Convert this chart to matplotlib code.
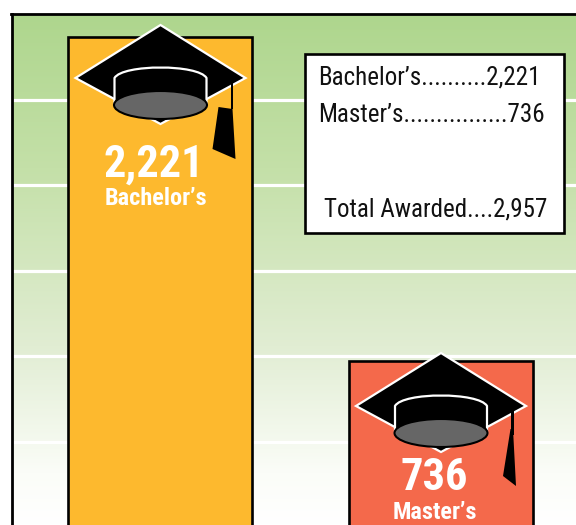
import numpy as np
import matplotlib
matplotlib.use("Agg")
import matplotlib.pyplot as plt
from matplotlib.colors import LinearSegmentedColormap
from matplotlib.patches import Polygon, Ellipse, PathPatch, Rectangle
from matplotlib.path import Path
from matplotlib.transforms import Affine2D

categories = ["Bachelor\u2019s", "Master\u2019s"]
values = [2221, 736]
value_labels = ["2,221", "736"]
bar_colors = ["#FDB92E", "#F4694B"]
grid_values = [365, 757, 1149, 1541, 1933]
legend_lines = ["Bachelor\u2019s..........2,221", "Master\u2019s................736", "Total Awarded....2,957"]

W, H = 576, 525
plt.rcParams["font.family"] = ["Roboto Condensed", "Liberation Sans", "DejaVu Sans"]

fig = plt.figure(figsize=(W / 100, H / 100), dpi=100, facecolor="white")
ax = fig.add_axes([11.5 / W, 0, 1 - 11.5 / W, 1 - 14 / H])
PX_PER_UNIT = 0.2182
ymin = (521.6 - 525) / PX_PER_UNIT
ymax = (521.6 - 14) / PX_PER_UNIT

cmap = LinearSegmentedColormap.from_list(
    "bg", [(0, "#AED68D"), (0.3, "#C4E0A8"), (0.65, "#E1EDD3"), (0.9, "#FBFDF8"), (1, "#FFFFFF")])
ax.imshow(np.linspace(0, 1, 256)[:, None], cmap=cmap, aspect="auto", extent=[0, 1, 0, 1],
          transform=ax.transAxes, zorder=0)

x = np.arange(len(values))
bar_floor = ymin - 60  # the picture crops the bars: their lower edge lies below the frame
ax.bar(x, [v - bar_floor for v in values], bottom=bar_floor, width=184 / 281, color=bar_colors,
       edgecolor="black", linewidth=1.9, zorder=2)

ax.set_xlim((11.5 - 160.5) / 281, (576 - 160.5) / 281)
ax.set_ylim(ymin, ymax)
ax.set_yticks(grid_values)
ax.set_xticks([])
ax.tick_params(length=0, labelleft=False)
ax.grid(axis="y", color="white", lw=2.3, zorder=1)
ax.set_axisbelow(True)
for s in ("right", "bottom"):
    ax.spines[s].set_visible(False)
for s in ("left", "top"):
    ax.spines[s].set_linewidth(2.0)
    ax.spines[s].set_color("black")

px = Affine2D().scale(1, -1).translate(0, H)
tassels = [
    [(58, 82), (72, 84), (75, 134), (52, 124)],
    [(69.5, 76), (72, 76), (75, 133), (62, 123)],
]
cord_ends = [84, 82]


def draw_cap(cx, top, tassel, cord_end):
    def P(dx, dy):
        return (cx + dx, top + dy)
    kw = dict(transform=px, zorder=4, clip_on=False)
    ax.add_patch(Polygon([P(0, 0), P(85, 53), P(0, 99), P(-85, 53)], closed=True, fc="black",
                         ec="white", lw=1.6, joinstyle="miter", **kw))
    band = Path([P(-46, 53), P(-38, 39), P(38, 39), P(46, 53), P(46, 80), P(-46, 80), P(-46, 53)],
                [Path.MOVETO, Path.CURVE4, Path.CURVE4, Path.CURVE4, Path.LINETO, Path.LINETO, Path.CLOSEPOLY])
    ax.add_patch(PathPatch(band, fc="black", ec="white", lw=1.6, **kw))
    ax.add_patch(Ellipse(P(0, 80), 93, 28, fc="#666666", ec="black", lw=1.5, **kw))
    ax.add_patch(Polygon([P(*p) for p in tassel], closed=True, fc="black", ec="none", **kw))
    ax.add_patch(Rectangle(P(70, 58), 2.5, cord_end - 58, fc="black", ec="none", **kw))


cap_pos = [(160.5, 25), (441, 353)]
for i in range(2):
    draw_cap(cap_pos[i][0], cap_pos[i][1], tassels[i], cord_ends[i])

big_pos = [(153.5, 177), (434.5, 490)]
small_pos = [(156, 205), (435, 519)]
for i in range(2):
    ax.text(*big_pos[i], value_labels[i], transform=px, color="white", fontsize=32, fontweight="bold",
            ha="center", va="baseline", zorder=5)
    ax.text(*small_pos[i], categories[i], transform=px, color="white", fontsize=17.5, fontweight="bold",
            ha="center", va="baseline", zorder=5)

ax.add_patch(Rectangle((304.5, 53.5), 259.5, 179, transform=px, fc="white", ec="black", lw=1.9, zorder=3))
legend_pos = [(318.5, 85), (318.5, 122), (324, 217)]
for s, p in zip(legend_lines, legend_pos):
    ax.text(*p, s, transform=px, color="#111111", fontsize=18, ha="left", va="baseline", zorder=5)

fig.savefig("out.png", dpi=100)
